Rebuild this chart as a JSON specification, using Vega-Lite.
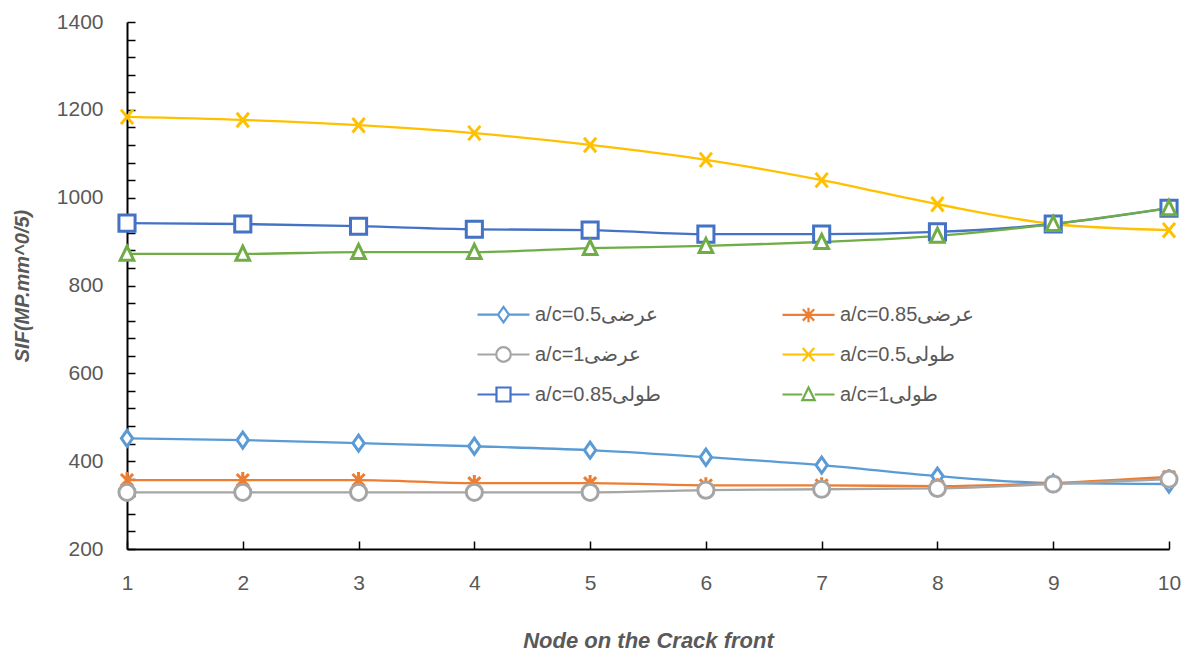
{
  "$schema": "https://vega.github.io/schema/vega-lite/v6.json",
  "width": 1042,
  "height": 527,
  "autosize": {"type": "none"},
  "padding": {"left": 127, "top": 22, "right": 21, "bottom": 108},
  "background": "white",
  "config": {
    "view": {"stroke": null},
    "font": "Liberation Sans",
    "legend": {
      "title": null,
      "orient": "none",
      "legendX": 349,
      "legendY": 265,
      "columns": 2,
      "columnPadding": 116,
      "rowPadding": -17,
      "labelFontSize": 20,
      "labelColor": "#595959",
      "labelFont": "Liberation Sans",
      "labelOffset": 4,
      "labelLimit": 400,
      "symbolSize": 2704,
      "symbolStrokeWidth": 2.2,
      "symbolFillColor": "white"
    }
  },
  "data": {
    "values": [
      {"node": 1, "series": "a/c=0.5عرضی", "sif": 452},
      {"node": 2, "series": "a/c=0.5عرضی", "sif": 448},
      {"node": 3, "series": "a/c=0.5عرضی", "sif": 441},
      {"node": 4, "series": "a/c=0.5عرضی", "sif": 434},
      {"node": 5, "series": "a/c=0.5عرضی", "sif": 425},
      {"node": 6, "series": "a/c=0.5عرضی", "sif": 409},
      {"node": 7, "series": "a/c=0.5عرضی", "sif": 391},
      {"node": 8, "series": "a/c=0.5عرضی", "sif": 366},
      {"node": 9, "series": "a/c=0.5عرضی", "sif": 350},
      {"node": 10, "series": "a/c=0.5عرضی", "sif": 348},
      {"node": 1, "series": "a/c=0.85عرضی", "sif": 357},
      {"node": 2, "series": "a/c=0.85عرضی", "sif": 357},
      {"node": 3, "series": "a/c=0.85عرضی", "sif": 357},
      {"node": 4, "series": "a/c=0.85عرضی", "sif": 350},
      {"node": 5, "series": "a/c=0.85عرضی", "sif": 350},
      {"node": 6, "series": "a/c=0.85عرضی", "sif": 345},
      {"node": 7, "series": "a/c=0.85عرضی", "sif": 345},
      {"node": 8, "series": "a/c=0.85عرضی", "sif": 343},
      {"node": 9, "series": "a/c=0.85عرضی", "sif": 350},
      {"node": 10, "series": "a/c=0.85عرضی", "sif": 364},
      {"node": 1, "series": "a/c=1عرضی", "sif": 329},
      {"node": 2, "series": "a/c=1عرضی", "sif": 329},
      {"node": 3, "series": "a/c=1عرضی", "sif": 329},
      {"node": 4, "series": "a/c=1عرضی", "sif": 329},
      {"node": 5, "series": "a/c=1عرضی", "sif": 329},
      {"node": 6, "series": "a/c=1عرضی", "sif": 334},
      {"node": 7, "series": "a/c=1عرضی", "sif": 336},
      {"node": 8, "series": "a/c=1عرضی", "sif": 338},
      {"node": 9, "series": "a/c=1عرضی", "sif": 348},
      {"node": 10, "series": "a/c=1عرضی", "sif": 359},
      {"node": 1, "series": "a/c=0.5طولی", "sif": 1184},
      {"node": 2, "series": "a/c=0.5طولی", "sif": 1177},
      {"node": 3, "series": "a/c=0.5طولی", "sif": 1165},
      {"node": 4, "series": "a/c=0.5طولی", "sif": 1147},
      {"node": 5, "series": "a/c=0.5طولی", "sif": 1120},
      {"node": 6, "series": "a/c=0.5طولی", "sif": 1086},
      {"node": 7, "series": "a/c=0.5طولی", "sif": 1040},
      {"node": 8, "series": "a/c=0.5طولی", "sif": 985},
      {"node": 9, "series": "a/c=0.5طولی", "sif": 940},
      {"node": 10, "series": "a/c=0.5طولی", "sif": 926},
      {"node": 1, "series": "a/c=0.85طولی", "sif": 942},
      {"node": 2, "series": "a/c=0.85طولی", "sif": 940},
      {"node": 3, "series": "a/c=0.85طولی", "sif": 935},
      {"node": 4, "series": "a/c=0.85طولی", "sif": 928},
      {"node": 5, "series": "a/c=0.85طولی", "sif": 926},
      {"node": 6, "series": "a/c=0.85طولی", "sif": 917},
      {"node": 7, "series": "a/c=0.85طولی", "sif": 917},
      {"node": 8, "series": "a/c=0.85طولی", "sif": 922},
      {"node": 9, "series": "a/c=0.85طولی", "sif": 940},
      {"node": 10, "series": "a/c=0.85طولی", "sif": 976},
      {"node": 1, "series": "a/c=1طولی", "sif": 872},
      {"node": 2, "series": "a/c=1طولی", "sif": 872},
      {"node": 3, "series": "a/c=1طولی", "sif": 876},
      {"node": 4, "series": "a/c=1طولی", "sif": 876},
      {"node": 5, "series": "a/c=1طولی", "sif": 885},
      {"node": 6, "series": "a/c=1طولی", "sif": 890},
      {"node": 7, "series": "a/c=1طولی", "sif": 899},
      {"node": 8, "series": "a/c=1طولی", "sif": 913},
      {"node": 9, "series": "a/c=1طولی", "sif": 940},
      {"node": 10, "series": "a/c=1طولی", "sif": 976}
    ]
  },
  "encoding": {
    "x": {
      "field": "node",
      "type": "quantitative",
      "scale": {"domain": [1, 10], "nice": false, "zero": false},
      "axis": {
        "title": "Node on the Crack front",
        "titleFont": "Liberation Sans",
        "titleFontSize": 22,
        "titleFontStyle": "italic",
        "titleFontWeight": "bold",
        "titleColor": "#595959",
        "titlePadding": 37,
        "values": [1, 1.5, 2, 2.5, 3, 3.5, 4, 4.5, 5, 5.5, 6, 6.5, 7, 7.5, 8, 8.5, 9, 9.5, 10],
        "format": "d",
        "labelExpr": "datum.value % 1 == 0 ? datum.label : ''",
        "labelFontSize": 21,
        "labelColor": "#595959",
        "labelPadding": 31,
        "labelFlush": false,
        "labelOverlap": false,
        "grid": false,
        "domainColor": "#000000",
        "domainWidth": 2,
        "tickColor": "#000000",
        "tickWidth": 1.5,
        "tickSize": -8
      }
    },
    "y": {
      "field": "sif",
      "type": "quantitative",
      "scale": {"domain": [200, 1400], "nice": false, "zero": false},
      "axis": {
        "title": "SIF(MP.mm^0/5)",
        "titleFont": "Liberation Sans",
        "titleFontSize": 20,
        "titleFontStyle": "italic",
        "titleFontWeight": "bold",
        "titleColor": "#595959",
        "titlePadding": 24,
        "values": [200, 240, 280, 320, 360, 400, 440, 480, 520, 560, 600, 640, 680, 720, 760, 800, 840, 880, 920, 960, 1000, 1040, 1080, 1120, 1160, 1200, 1240, 1280, 1320, 1360, 1400],
        "labelExpr": "datum.value % 200 == 0 ? datum.label : ''",
        "format": "d",
        "labelFontSize": 21,
        "labelColor": "#595959",
        "labelPadding": 32,
        "labelFlush": false,
        "labelOverlap": false,
        "grid": false,
        "domainColor": "#000000",
        "domainWidth": 2,
        "tickColor": "#000000",
        "tickWidth": 1.5,
        "tickSize": -8
      }
    },
    "color": {
      "field": "series",
      "type": "nominal",
      "scale": {
        "domain": ["a/c=0.5عرضی", "a/c=1عرضی", "a/c=0.85طولی", "a/c=0.85عرضی", "a/c=0.5طولی", "a/c=1طولی"],
        "range": ["#5B9BD5", "#A5A5A5", "#4472C4", "#ED7D31", "#FFC000", "#70AD47"]
      },
      "legend": {
        "encoding": {
          "symbols": {
            "fill": {"value": "white"},
            "shape": {
              "value": {
                "expr": "datum.value == 'a/c=0.5عرضی' ? 'M-1,0H-0.22M0.22,0H1M0,-0.3L0.21,0L0,0.3L-0.21,0Z' : datum.value == 'a/c=0.85عرضی' ? 'M-1,0H1M-0.22,-0.22L0.22,0.22M-0.22,0.22L0.22,-0.22M0,-0.28V0.28' : datum.value == 'a/c=1عرضی' ? 'M-1,0H-0.28M0.28,0H1M-0.28,0A0.28,0.28 0 1,0 0.28,0A0.28,0.28 0 1,0 -0.28,0Z' : datum.value == 'a/c=0.5طولی' ? 'M-1,0H1M-0.22,-0.25L0.22,0.25M-0.22,0.25L0.22,-0.25' : datum.value == 'a/c=0.85طولی' ? 'M-1,0H-0.27M0.27,0H1M-0.27,-0.27H0.27V0.27H-0.27Z' : 'M-1,0H-0.24M0.24,0H1M0,-0.27L0.24,0.22H-0.24Z'"
              }
            }
          }
        }
      }
    }
  },
  "layer": [
    {
      "mark": {"type": "line", "interpolate": "monotone", "strokeWidth": 2.3}
    },
    {
      "mark": {"type": "point", "filled": false, "fill": "white", "opacity": 1, "strokeWidth": 3, "size": 260},
      "encoding": {
        "shape": {
          "field": "series",
          "type": "nominal",
          "scale": {
            "domain": ["a/c=0.5عرضی", "a/c=0.85عرضی", "a/c=1عرضی", "a/c=0.5طولی", "a/c=0.85طولی", "a/c=1طولی"],
            "range": [
              "M0,-1L0.7,0L0,1L-0.7,0Z",
              "M-0.75,-0.75L0.75,0.75M-0.75,0.75L0.75,-0.75M0,-1V1",
              "circle",
              "M-0.75,-0.9L0.75,0.9M-0.75,0.9L0.75,-0.9",
              "square",
              "M0,-0.95L0.85,0.8H-0.85Z"
            ]
          },
          "legend": null
        }
      }
    }
  ]
}
